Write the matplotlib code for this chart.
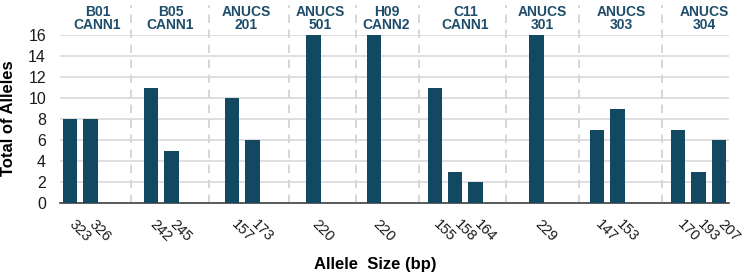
import matplotlib.pyplot as plt

plt.rcParams['font.family'] = ['Liberation Sans', 'DejaVu Sans']

# Data
allele_sizes = ["323", "326", "242", "245", "157", "173", "220", "220",
                "155", "158", "164", "229", "147", "153", "170", "193", "207"]
allele_counts = [8, 8, 11, 5, 10, 6, 16, 16, 11, 3, 2, 16, 7, 9, 7, 3, 6]
# slot of each bar on the category axis (33 slots, gaps between markers)
slots = [0, 1, 4, 5, 8, 9, 12, 15, 18, 19, 20, 23, 26, 27, 30, 31, 32]

markers = ["B01\nCANN1", "B05\nCANN1", "ANUCS\n201", "ANUCS\n501", "H09\nCANN2",
           "C11\nCANN1", "ANUCS\n301", "ANUCS\n303", "ANUCS\n304"]
marker_pos = [1.35, 4.95, 8.7, 12.35, 15.6, 19.5, 23.3, 27.2, 31.3]
dividers = [3.0, 6.87, 10.8, 14.08, 17.2, 21.5, 25.1, 29.2]

bar_color = "#134861"
label_color = "#1d4d6b"

fig = plt.figure(figsize=(7.44, 2.77), dpi=100)
ax = fig.add_axes([60 / 744, 1 - 203 / 277, 669 / 744, 168 / 277])

ax.bar(slots, allele_counts, width=0.7, color=bar_color, zorder=3)

ax.set_xlim(-0.5, 32.5)
ax.set_ylim(0, 16)
ax.set_yticks(range(0, 17, 2))
ax.tick_params(axis="y", length=0, labelsize=11.5, pad=10, labelcolor="#1a1a1a")
ax.grid(axis="y", color="#d9d9d9", linewidth=1.2, zorder=0)

ax.set_xticks([s - 0.2 for s in slots])
ax.set_xticklabels(allele_sizes, rotation=-45, ha="left", va="top",
                   fontsize=10.5, color="#1a1a1a")
ax.tick_params(axis="x", length=0, pad=10)

for s in ["top", "right", "left"]:
    ax.spines[s].set_visible(False)
ax.spines["bottom"].set_color("#404040")
ax.spines["bottom"].set_linewidth(1.2)

# dashed group dividers extending above the plot
for d in dividers:
    ax.plot([d, d], [0, 18.9], color="#cfcfcf", linestyle=(0, (5, 4)),
            linewidth=1.2, clip_on=False, zorder=1)

# marker names above the groups
for name, p in zip(markers, marker_pos):
    ax.text(p, 16.25, name, ha="center", va="bottom", fontsize=10,
            fontweight="bold", color=label_color, linespacing=0.95)

fig.text(9 / 744, 1 - 118 / 277, "Total of Alleles", rotation=90, ha="center",
         va="center", fontsize=12, fontweight="bold")
fig.text(375 / 744, 1 - 265 / 277, "Allele  Size (bp)", ha="center", va="center",
         fontsize=12, fontweight="bold")

fig.savefig("out.png", dpi=100)
